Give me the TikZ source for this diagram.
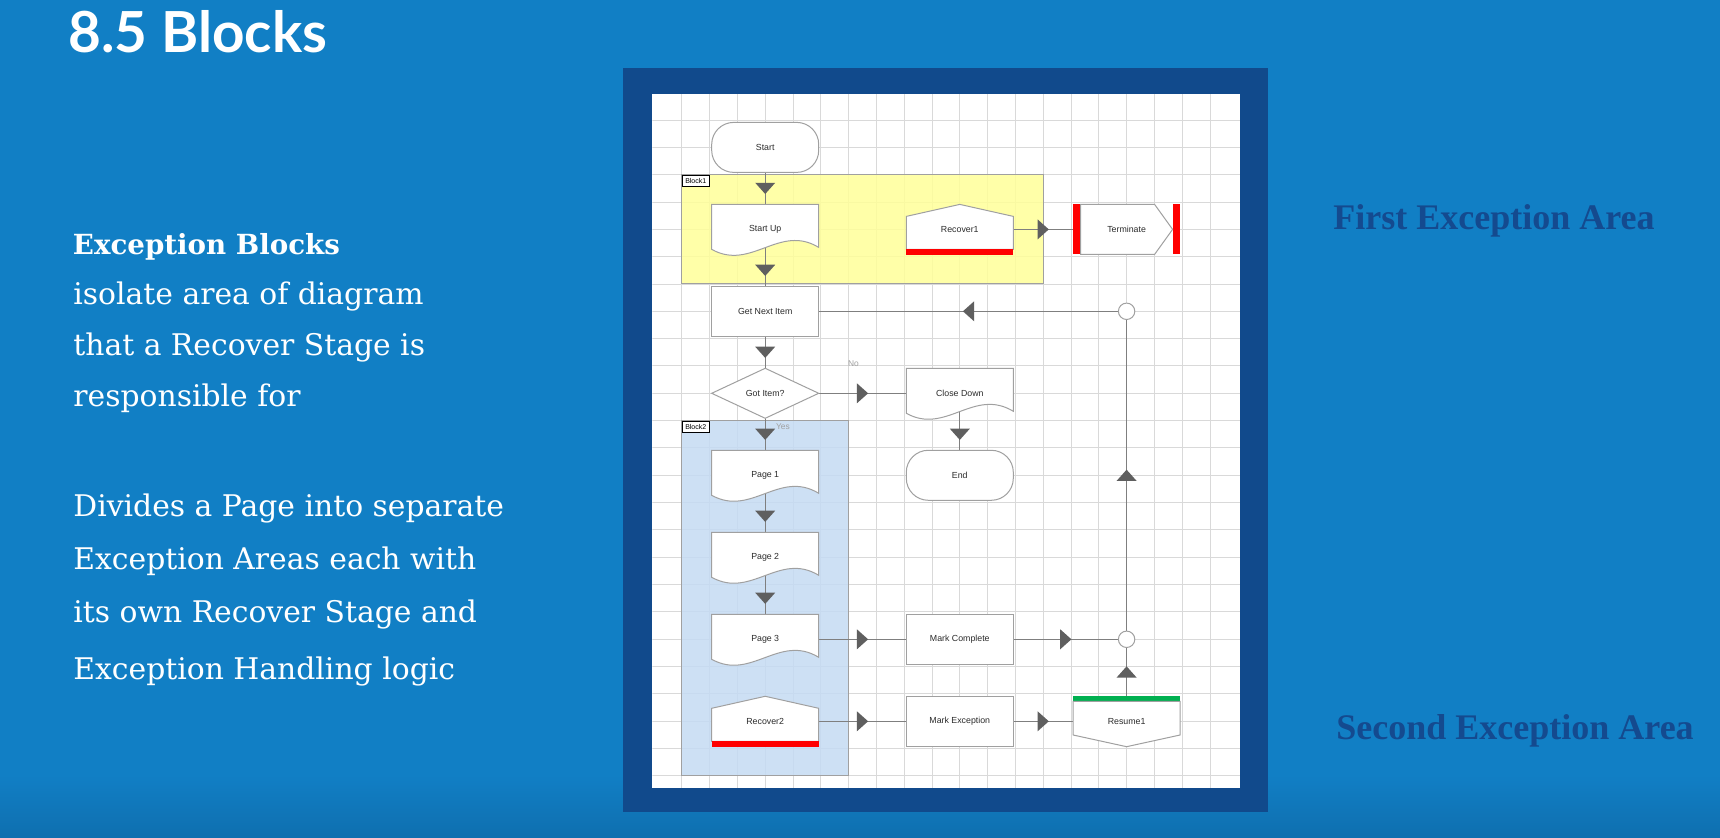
\documentclass[tikz,border=0pt]{standalone}
\usepackage{fontspec}
\setmainfont{Liberation Sans}
\newfontfamily\titlefont{Lato}
\newfontfamily\bodyserif{DejaVu Serif}
\newfontfamily\areaserif{Liberation Serif}
\usetikzlibrary{decorations.markings}
\pgfdeclarelayer{bg}
\pgfsetlayers{bg,main}
\definecolor{bgblue}{HTML}{117FC5}
\definecolor{bgdark}{HTML}{0F6FAF}
\definecolor{framec}{HTML}{114A8C}
\definecolor{gridc}{HTML}{D9D9D9}
\definecolor{yellowb}{HTML}{FFFF99}
\definecolor{blueb}{HTML}{C5DBF3}
\definecolor{edgec}{HTML}{A0A0A0}
\definecolor{linec}{HTML}{7F7F7F}
\definecolor{headc}{HTML}{5F5F5F}
\definecolor{stagetxt}{HTML}{2B2B2B}
\definecolor{redbar}{HTML}{FF0000}
\definecolor{greenbar}{HTML}{00B050}
\definecolor{labc}{HTML}{A0A0A0}
\definecolor{areac}{HTML}{144A8F}
\begin{document}
\begin{tikzpicture}[x=0.5pt,y=-0.5pt,
  stage/.style={minimum width=53.5pt,minimum height=25pt,inner sep=0pt,font=\fontsize{4.4}{5}\selectfont,text=stagetxt},
  junction/.style={circle,draw=edgec,fill=white,line width=0.5pt,minimum size=8.2pt,inner sep=0pt},
  connline/.style={draw=linec,line width=0.6pt},
  arrowmid/.style={decorate,decoration={markings,mark=at position 0.5 with {\fill[headc] (-2.8pt,-5pt)--(2.8pt,0pt)--(-2.8pt,5pt)--cycle;}}},
  outline/.style={draw=edgec,fill=white,line width=0.5pt},
  blockarea/.style={draw=edgec,line width=0.5pt,fill opacity=0.85},
  blocklab/.style={draw=black,fill=white,line width=0.35pt,inner sep=0pt,minimum width=13.6pt,minimum height=5.9pt,anchor=north west,font=\fontsize{3.5}{4}\selectfont},
  lefttext/.style={anchor=base west,inner sep=0pt,text=white,font=\bodyserif\fontsize{14.9}{18}\selectfont},
  areatext/.style={anchor=base west,inner sep=0pt,text=areac,font=\areaserif\bfseries\fontsize{18}{22}\selectfont},
  flowlab/.style={text=labc,inner sep=0pt,font=\fontsize{4.2}{5}\selectfont},
  docshape/.pic={\draw[outline] (-53.5,-25) -- (53.5,-25) -- (53.5,18) .. controls (14,-6) and (-14,42) .. (-53.5,20) -- cycle;},
  termshape/.pic={\draw[outline,rounded corners=11pt] (-53.5,-25) rectangle (53.5,25);},
  procshape/.pic={\draw[outline] (-53.5,-25) rectangle (53.5,25);},
  decshape/.pic={\draw[outline] (0,-25) -- (53.5,0) -- (0,25) -- (-53.5,0) -- cycle;},
  recshape/.pic={\draw[outline] (-53.5,-13) -- (0,-25) -- (53.5,-13) -- (53.5,20) -- (-53.5,20) -- cycle;
                 \fill[redbar] (-53.5,20) rectangle (53.5,25.5);},
  endshape/.pic={\fill[redbar] (-53.5,-25) rectangle (-46,25);
                 \fill[redbar] (46,-25) rectangle (53.5,25);
                 \draw[outline] (-46,-25) -- (28,-25) -- (46,0) -- (28,25) -- (-46,25) -- cycle;},
  resshape/.pic={\fill[greenbar] (-53.5,-25) rectangle (53.5,-20);
                 \draw[outline] (-53.5,-20) -- (53.5,-20) -- (53.5,13.7) -- (0,25.4) -- (-53.5,13.7) -- cycle;}
]
\useasboundingbox (0,0) rectangle (1720,838);
\begin{pgfonlayer}{bg}
  \fill[bgblue] (0,0) rectangle (1720,838);
  \shade[top color=bgblue,bottom color=bgdark] (0,775) rectangle (1720,838);
  \fill[framec] (623,68.5) rectangle (1267.5,812.5);
  \fill[white] (652.4,94.3) rectangle (1240,788.3);
  \begin{scope}
    \clip (652.4,94.3) rectangle (1240,788.3);
    \foreach \k in {1,...,20} \draw[gridc,line width=0.5pt] ({654+27.8*\k},94.3) -- ++(0,694);
    \foreach \k in {1,...,25} \draw[gridc,line width=0.5pt] (652.4,{92.7+27.33*\k}) -- ++(588,0);
  \end{scope}
  \filldraw[blockarea,fill=yellowb] (681.8,174.7) rectangle (1043.2,284);
  \filldraw[blockarea,fill=blueb] (681.8,420.7) rectangle (848.6,776);
\end{pgfonlayer}

% shapes
\pic at (765.2,147.4) {termshape};
\pic at (765.2,229.4) {docshape};
\pic at (959.8,229.4) {recshape};
\pic at (1126.6,229.4) {endshape};
\pic at (765.2,311.3) {procshape};
\pic at (765.2,393.3) {decshape};
\pic at (959.8,393.3) {docshape};
\pic at (959.8,475.3) {termshape};
\pic at (765.2,475.3) {docshape};
\pic at (765.2,557.3) {docshape};
\pic at (765.2,639.3) {docshape};
\pic at (959.8,639.3) {procshape};
\pic at (765.2,721.3) {recshape};
\pic at (959.8,721.3) {procshape};
\pic at (1126.6,721.3) {resshape};

% stage nodes
\node[stage] (start) at (765.2,147.4) {Start};
\node[stage] (startup) at (765.2,229.4) {Start Up};
\node[stage] (recover1) at (959.8,229.4) {Recover1};
\node[stage] (terminate) at (1126.6,229.4) {Terminate};
\node[stage] (getnext) at (765.2,311.3) {Get Next Item};
\node[stage] (gotitem) at (765.2,393.3) {Got Item?};
\node[stage] (closedown) at (959.8,393.3) {Close Down};
\node[stage] (endn) at (959.8,475.3) {End};
\node[stage] (page1) at (765.2,475.3) {Page 1};
\node[stage] (page2) at (765.2,557.3) {Page 2};
\node[stage] (page3) at (765.2,639.3) {Page 3};
\node[stage] (markcomplete) at (959.8,639.3) {Mark Complete};
\node[stage] (recover2) at (765.2,721.3) {Recover2};
\node[stage] (markexc) at (959.8,721.3) {Mark Exception};
\node[stage] (resume1) at (1126.6,721.3) {Resume1};
\node[junction] (j1) at (1126.6,311.3) {};
\node[junction] (j2) at (1126.6,639.3) {};

\node[blocklab] (b1lab) at (681.8,174.7) {Block1};
\node[blocklab] (b2lab) at (681.8,420.7) {Block2};
\node[flowlab] (nolab) at (853.5,363.5) {No};
\node[flowlab] (yeslab) at (783,427) {Yes};

% connector lines behind shapes
\begin{pgfonlayer}{bg}
  \draw[connline] (start.center) -- (startup.center);
  \draw[connline] (startup.center) -- (getnext.center);
  \draw[connline] (recover1.center) -- (terminate.center);
  \draw[connline] (j1) -- (getnext.center);
  \draw[connline] (getnext.center) -- (gotitem.center);
  \draw[connline] (gotitem.center) -- (closedown.center);
  \draw[connline] (closedown.center) -- (endn.center);
  \draw[connline] (gotitem.center) -- (page1.center);
  \draw[connline] (page1.center) -- (page2.center);
  \draw[connline] (page2.center) -- (page3.center);
  \draw[connline] (page3.center) -- (markcomplete.center);
  \draw[connline] (markcomplete.center) -- (j2);
  \draw[connline] (recover2.center) -- (markexc.center);
  \draw[connline] (markexc.center) -- (resume1.center);
  \draw[connline] (resume1.center) -- (j2);
  \draw[connline] (j2) -- (j1);
\end{pgfonlayer}

% arrowheads at midpoints
\path[arrowmid] (start) -- (startup);
\path[arrowmid] (startup) -- (getnext);
\path[arrowmid] (recover1) -- (terminate);
\path[arrowmid] (j1) -- (getnext);
\path[arrowmid] (getnext) -- (gotitem);
\path[arrowmid] (gotitem) -- (closedown);
\path[arrowmid] (closedown) -- (endn);
\path[arrowmid] (gotitem) -- (page1);
\path[arrowmid] (page1) -- (page2);
\path[arrowmid] (page2) -- (page3);
\path[arrowmid] (page3) -- (markcomplete);
\path[arrowmid] (markcomplete) -- (j2);
\path[arrowmid] (recover2) -- (markexc);
\path[arrowmid] (markexc) -- (resume1);
\path[arrowmid] (resume1) -- (j2);
\path[arrowmid] (j2) -- (j1);

% texts
\node[anchor=base west,inner sep=0pt,text=white,font=\titlefont\bfseries\fontsize{28.3}{30}\selectfont] (title) at (68,53) {8.5 Blocks};
\node[lefttext,font=\bodyserif\bfseries\fontsize{13.85}{16}\selectfont] (t1) at (72.5,255) {Exception Blocks};
\node[lefttext] (t2) at (73,305) {isolate area of diagram};
\node[lefttext] (t3) at (73,356) {that a Recover Stage is};
\node[lefttext] (t4) at (73,406.5) {responsible for};
\node[lefttext] (t5) at (73,517) {Divides a Page into separate};
\node[lefttext] (t6) at (73,569.5) {Exception Areas each with};
\node[lefttext] (t7) at (73,623) {its own Recover Stage and};
\node[lefttext] (t8) at (73,680) {Exception Handling logic};
\node[areatext] (a1) at (1333,230) {First Exception Area};
\node[areatext] (a2) at (1336,740) {Second Exception Area};
\end{tikzpicture}
\end{document}
